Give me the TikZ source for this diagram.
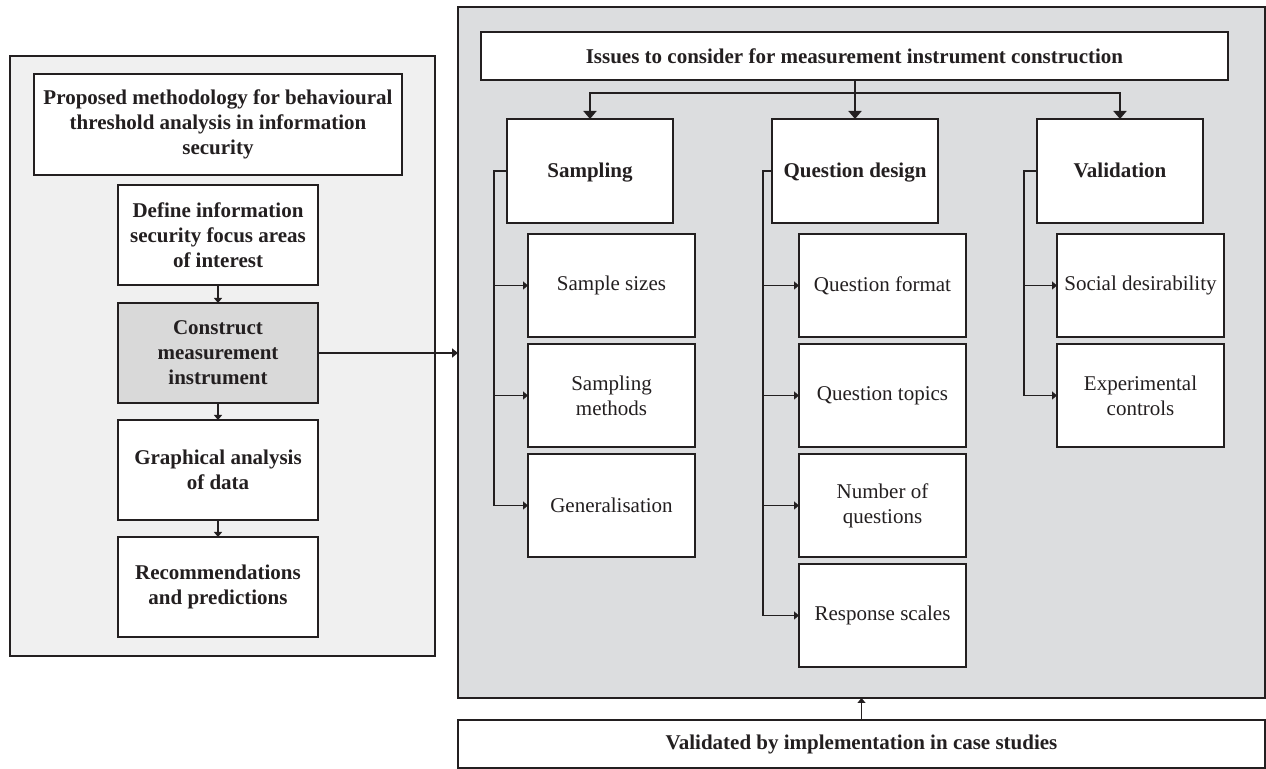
\documentclass[tikz,border=0pt]{standalone}
\usepackage{fontspec}
\setmainfont{Liberation Serif}
\usepackage{xcolor}
\usepackage{tikz}
\usetikzlibrary{arrows.meta,positioning,calc}
\definecolor{PanelLight}{HTML}{F0F0F0}
\definecolor{PanelGrey}{HTML}{DCDDDF}
\definecolor{StepGrey}{HTML}{D9D9D9}
\definecolor{Ink}{HTML}{231F20}

\begin{document}
\begin{tikzpicture}[
  x=0.5pt, y=-0.5pt,
  font=\fontsize{10.5}{12.5}\selectfont, text=Ink,
  panel/.style={draw=Ink, line width=1pt, anchor=north west, inner sep=0pt, outer sep=0pt},
  box/.style={draw=Ink, line width=1pt, fill=white, align=center, inner sep=2pt, outer sep=0pt},
  bold/.style={font=\fontsize{10.5}{12.5}\selectfont\bfseries},
  stepbox/.style={box, bold, minimum width=100pt, minimum height=50pt},
  headbox/.style={box, bold, minimum width=83pt, minimum height=52pt, text height=8.5pt, text depth=1.5pt},
  subbox/.style={box, minimum width=83.5pt, minimum height=51.5pt},
  link/.style={draw=Ink, line width=0.9pt},
  arrow/.style={link, -{Triangle[length=4pt,width=6.5pt]}},
  tick/.style={link, -{Triangle[length=2.5pt,width=4pt]}}
]
\useasboundingbox (0,0) rectangle (1266,769);

\node[panel, fill=PanelLight, minimum width=212.5pt, minimum height=300pt] (leftpanel) at (10,56) {};
\node[panel, fill=PanelGrey, minimum width=403.5pt, minimum height=345.5pt] (rightpanel) at (458,7) {};

\node[box, bold, minimum width=184pt, minimum height=50.5pt, anchor=north west] (method) at (34,74)
  {Proposed methodology for behavioural\\threshold analysis in information\\security};
\node[stepbox, below=5pt of method] (define) {Define information\\security focus areas\\of interest};
\node[stepbox, fill=StepGrey, below=9pt of define] (construct) {Construct\\measurement\\instrument};
\node[stepbox, below=8.5pt of construct] (graphical) {Graphical analysis\\of data};
\node[stepbox, below=8.5pt of graphical] (recommend) {Recommendations\\and predictions};

\draw[tick] (define) -- (construct);
\draw[tick] (construct) -- (graphical);
\draw[tick] (graphical) -- (recommend);
\draw[link, -{Triangle[length=3pt,width=4.5pt]}] (construct.east) -- (construct.east -| rightpanel.west);

\node[box, bold, minimum width=373.5pt, minimum height=24pt, anchor=north west] (issues) at (481,32)
  {Issues to consider for measurement instrument construction};
\node[headbox, anchor=north west] (sampling) at (507,119) {Sampling};
\node[headbox, right=49.5pt of sampling] (qdesign) {Question design};
\node[headbox, right=49.5pt of qdesign] (validation) {Validation};

\coordinate (fork) at ($(issues.south -| qdesign.north)+(0,13)$);
\draw[arrow] (issues.south -| qdesign.north) -- (qdesign.north);
\draw[arrow] (fork) -| (sampling.north);
\draw[arrow] (fork) -| (validation.north);

\node[subbox, below right=5.5pt and 10.5pt of sampling.south west] (sizes) {Sample sizes};
\node[subbox, below=3.5pt of sizes] (methods) {Sampling\\methods};
\node[subbox, below=3.5pt of methods] (general) {Generalisation};

\node[subbox, below right=5.5pt and 13.5pt of qdesign.south west] (format) {Question format};
\node[subbox, below=3.5pt of format] (topics) {Question topics};
\node[subbox, below=3.5pt of topics] (number) {Number of\\questions};
\node[subbox, below=3.5pt of number] (scales) {Response scales};

\node[subbox, below right=5.5pt and 10pt of validation.south west] (social) {Social desirability};
\node[subbox, below=3.5pt of social] (controls) {Experimental\\controls};

\coordinate (sbar) at ($(sampling.west)+(-13,0)$);
\coordinate (qbar) at ($(qdesign.west)+(-9,0)$);
\coordinate (vbar) at ($(validation.west)+(-13,0)$);
\draw[tick] (sampling.west) -- (sbar) |- (general.west);
\draw[tick] (qdesign.west) -- (qbar) |- (scales.west);
\draw[tick] (validation.west) -- (vbar) |- (controls.west);
\foreach \sub in {sizes, methods} \draw[tick] (sbar |- \sub.west) -- (\sub.west);
\foreach \sub in {format, topics, number} \draw[tick] (qbar |- \sub.west) -- (\sub.west);
\draw[tick] (vbar |- social.west) -- (social.west);

\node[box, bold, minimum width=403.5pt, minimum height=24pt, anchor=north west] (cases) at (458,720)
  {Validated by implementation in case studies};
\draw[tick] (cases.north) -- (rightpanel.south);
\end{tikzpicture}
\end{document}
